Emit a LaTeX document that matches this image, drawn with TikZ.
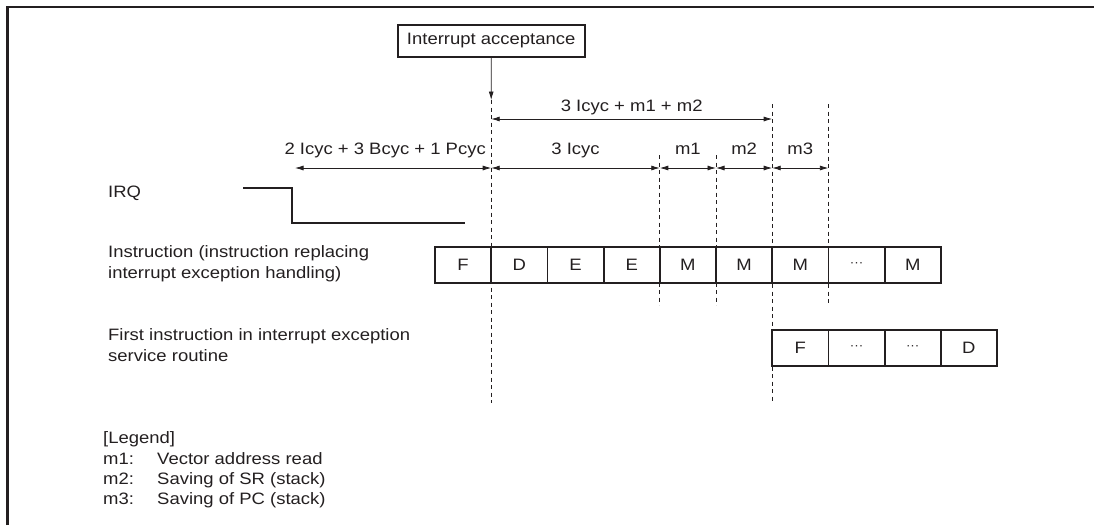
\documentclass[tikz,border=0pt]{standalone}
\usepackage{fontspec}
\setmainfont[FakeStretch=1.12]{Liberation Sans}
\usetikzlibrary{arrows.meta}

\definecolor{ink}{HTML}{231F20}
\newcommand{\mdots}{{\fontsize{12}{12}\selectfont\textperiodcentered\textperiodcentered\textperiodcentered}}

\tikzset{
    cell/.style={draw=ink, line width=1.8pt, minimum width=56.2pt, minimum height=36pt,
        inner sep=0pt, outer sep=0pt, text=ink},
    accbox/.style={draw=ink, line width=2pt, minimum width=187pt, minimum height=32pt,
        inner sep=0pt, text=ink},
    guide/.style={draw=ink, line width=0.8pt, dash pattern=on 4pt off 3.5pt},
    dim/.style={draw=ink, line width=0.8pt,
        {Latex[length=8.5pt,width=5pt]}-{Latex[length=8.5pt,width=5pt]}},
    wave/.style={draw=ink, line width=2pt},
    lbl/.style={text=ink, inner sep=0pt},
}

\begin{document}
\begin{tikzpicture}[x=1pt, y=-1pt, font=\fontsize{16.5}{21}\selectfont]
    \useasboundingbox (0,0) rectangle (1094,525);

    % Frame
    \draw[ink, line width=2.6pt] (7.5,525) -- (7.5,7) -- (1094,7);

    % Instruction cells
    \foreach \t [count=\i] in {F,D,E,E,M,M,M,\mdots,M}
        \node[cell] (c\i) at (435+56.2*\i-28.1, 265) {\t};

    % Service routine cells
    \foreach \t [count=\i] in {F,\mdots,\mdots,D}
        \node[cell] (s\i) at (772.2+56.2*\i-28.1, 348) {\t};

    % Guide positions and arrow levels
    \path (c1.east) coordinate (g0) (c4.east) coordinate (g1) (c5.east) coordinate (g2)
          (c6.east) coordinate (g3) (c7.east) coordinate (g4);
    \coordinate (hi) at (0,119);
    \coordinate (lo) at (0,168);
    \coordinate (lostart) at (295,168);

    % Dashed guides
    \foreach \c/\a/\b in {c1/100/403, c4/155/305, c5/155/305, c6/104/403, c7/104/305}
        \draw[guide] (\c.east |- 0,\a) -- (\c.east |- 0,\b);

    % Interrupt acceptance
    \node[accbox] (acc) at (491.2,41) {Interrupt acceptance};
    \draw[ink, line width=0.8pt, -{Latex[length=8.5pt,width=5pt]}] (acc) -- (g0 |- 0,100);

    % Timing arrows
    \draw[dim] (g0 |- hi) -- (g3 |- hi);
    \draw[dim] (lostart) -- (g0 |- lo);
    \draw[dim] (g0 |- lo) -- (g1 |- lo);
    \draw[dim] (g1 |- lo) -- (g2 |- lo);
    \draw[dim] (g2 |- lo) -- (g3 |- lo);
    \draw[dim] (g3 |- lo) -- (g4 |- lo);

    % Timing labels
    \node[lbl, anchor=base] (tsum) at (631.7,111) {3 Icyc + m1 + m2};
    \node[lbl, anchor=base east] (tpre) at (486,154) {2 Icyc + 3 Bcyc + 1 Pcyc};
    \node[lbl, anchor=base] (tex) at (575.5,154) {3 Icyc};
    \node[lbl, anchor=base] (tm1) at (687.9,154) {m1};
    \node[lbl, anchor=base] (tm2) at (744.1,154) {m2};
    \node[lbl, anchor=base] (tm3) at (800.3,154) {m3};

    % IRQ signal
    \draw[wave] (243,188) -- (292,188) -- (292,223) -- (465,223);

    % Row labels
    \node[lbl, anchor=base west] (irq) at (108,197) {IRQ};
    \node[lbl, anchor=base west, align=left] (instr) at (108,278)
        {Instruction (instruction replacing\\interrupt exception handling)};
    \node[lbl, anchor=base west, align=left] (first) at (108,361)
        {First instruction in interrupt exception\\service routine};

    % Legend
    \node[lbl, anchor=base west] (legend) at (103,443) {[Legend]};
    \foreach \m/\txt [count=\i] in {m1/Vector address read, m2/Saving of SR (stack), m3/Saving of PC (stack)} {
        \node[lbl, anchor=base west] (k\i) at (103,444+20*\i) {\m:};
        \node[lbl, anchor=base west] (v\i) at (157,444+20*\i) {\txt};
    }

\end{tikzpicture}
\end{document}
